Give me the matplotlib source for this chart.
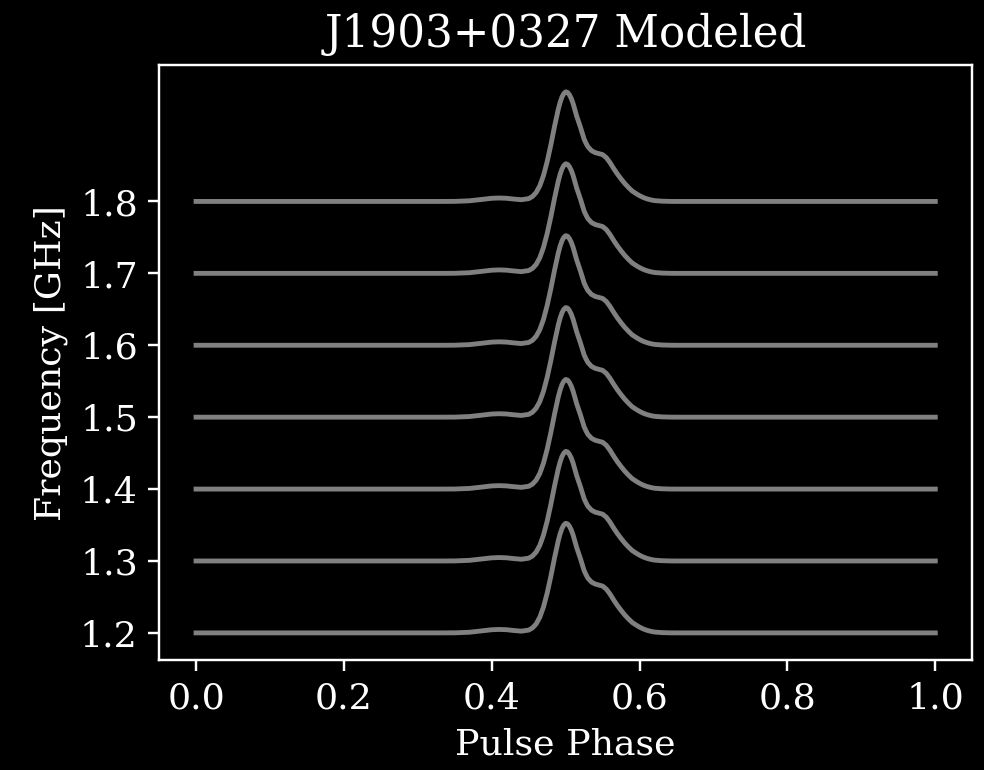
import numpy as np
import matplotlib
matplotlib.use('Agg')
import matplotlib.pyplot as plt

# frequency channels (GHz), each profile is drawn offset to its channel
freqs = [1.2, 1.3, 1.4, 1.5, 1.6, 1.7, 1.8]

# modeled template profile (offset in GHz units)
phase = [0.0, 0.30, 0.33, 0.35, 0.37, 0.39, 0.40, 0.41, 0.42, 0.43, 0.44,
         0.45, 0.455, 0.46, 0.465, 0.47, 0.475, 0.48, 0.485, 0.49, 0.4925,
         0.495, 0.4975, 0.50, 0.5025, 0.505, 0.5075, 0.51, 0.5125, 0.515,
         0.5175, 0.52, 0.5225, 0.525, 0.5275, 0.53, 0.535, 0.54, 0.545, 0.55,
         0.555, 0.56, 0.565, 0.57, 0.575, 0.58, 0.585, 0.59, 0.595, 0.60,
         0.605, 0.61, 0.615, 0.62, 0.63, 0.64, 0.65, 1.0]
profile = [0.0, 0.0, 0.0, 0.0001, 0.0009, 0.0032, 0.0044, 0.0048, 0.0044,
           0.0033, 0.0024, 0.0039, 0.0068, 0.0123, 0.0217, 0.0360, 0.0554,
           0.0789, 0.1046, 0.1281, 0.1378, 0.1452, 0.1500, 0.1524, 0.1517,
           0.1485, 0.1434, 0.1364, 0.1274, 0.1184, 0.1108, 0.1032, 0.0949,
           0.0866, 0.0810, 0.0762, 0.0706, 0.0679, 0.0665, 0.0651, 0.0609,
           0.0540, 0.0457, 0.0381, 0.0312, 0.0249, 0.0194, 0.0145, 0.0111,
           0.0080, 0.0055, 0.0036, 0.0022, 0.0012, 0.0004, 0.0001, 0.0, 0.0]

plt.style.use('dark_background')
plt.rcParams['font.family'] = 'DejaVu Serif'
plt.rcParams['font.size'] = 12

fig = plt.figure(figsize=(4.515, 3.533), dpi=218)
ax = fig.add_axes([0.1616, 0.1429, 0.8262, 0.7727])

for f in freqs:
	ax.plot(phase, np.array(profile) + f, color='gray', lw=1.6)

ax.set_xticks([0.0, 0.2, 0.4, 0.6, 0.8, 1.0])
ax.set_yticks(freqs)

ax.set_xlabel('Pulse Phase')
ax.set_ylabel('Frequency [GHz]')
ax.set_title('J1903+0327 Modeled')

fig.savefig('out.png', facecolor='black')
